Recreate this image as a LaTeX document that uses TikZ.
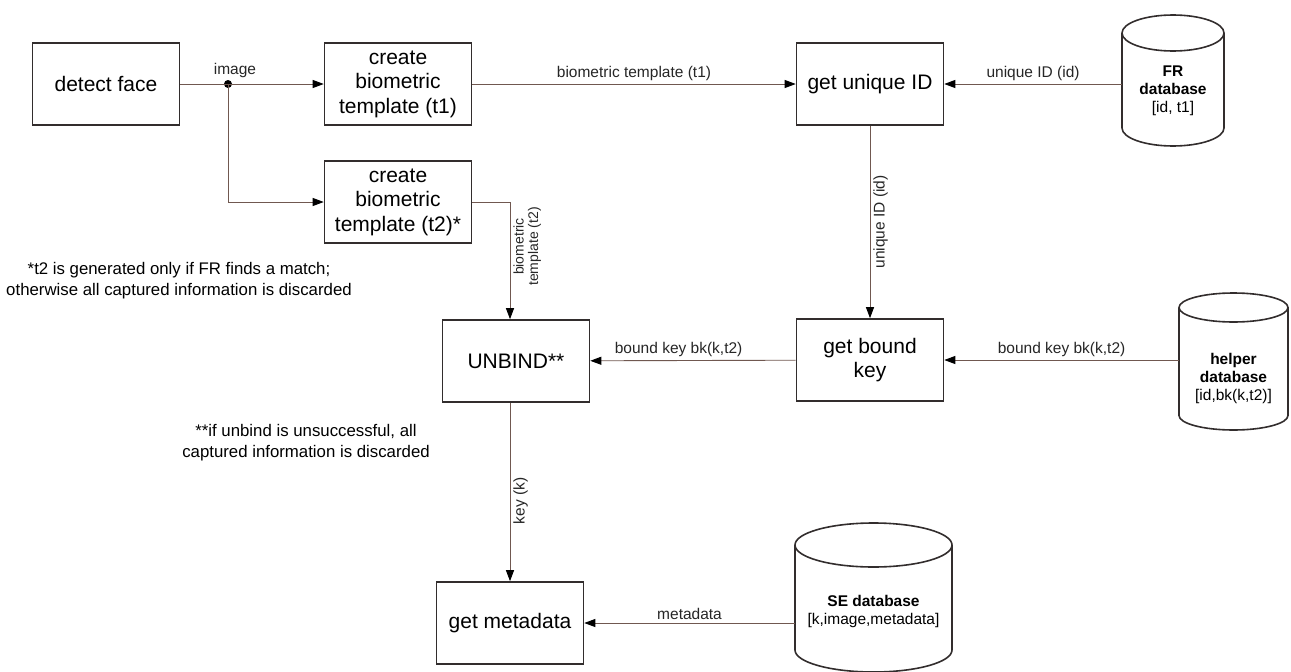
\documentclass[tikz,border=0pt]{standalone}
\usepackage{fontspec}
\setmainfont{Liberation Sans}
\usetikzlibrary{arrows.meta}
\definecolor{linebrown}{RGB}{112,88,80}
\definecolor{boxgray}{RGB}{50,45,45}

\tikzset{
  block/.style={draw=boxgray, line width=1.6pt, minimum width=147pt, minimum height=82pt,
    align=center, inner sep=2pt, font=\fontsize{21}{24.5}\selectfont},
  dbase/.style={align=center, inner sep=0pt, font=\fontsize{15.5}{18}\selectfont},
  dbline/.style={draw=boxgray, line width=1.6pt},
  conn/.style={draw=linebrown, line width=0.9pt},
  arr/.style={conn, -{Triangle[length=11pt,width=8pt,color=black]}},
  lbl/.style={font=\fontsize{15.5}{17}\selectfont, text=black!85, inner sep=3pt},
  note/.style={align=center, font=\fontsize{16.8}{21}\selectfont},
}
% #1 node, #2 x radius, #3 y radius, #4 top ellipse above text, #5 bottom ellipse below text
\newcommand{\dbcyl}[5]{%
  \draw[dbline] ([shift={(-#2pt,#4pt)}]#1.center) -- ([shift={(-#2pt,-#5pt)}]#1.center)
    arc[start angle=180, end angle=360, x radius=#2pt, y radius=#3pt]
    -- ([shift={(#2pt,#4pt)}]#1.center)
    arc[start angle=0, end angle=360, x radius=#2pt, y radius=#3pt];}

\begin{document}
\begin{tikzpicture}[x=1pt,y=-1pt]
  \useasboundingbox (0,0) rectangle (1291,672);
  % top row
  \node[block] (detect) at (106,84) {detect face};
  \node[block] (tmplA) at (398,84) {create\\biometric\\template (t1)};
  \node[block] (tmplB) at (398,202) {create\\biometric\\template (t2)*};
  \node[block] (getid) at (870,84) {get unique ID};
  \node[dbase, minimum width=102pt] (frdb) at (1173,91)
    {\textbf{FR}\\\textbf{database}\\{}[id, t1]};
  \dbcyl{frdb}{51}{18}{58}{37}
  % middle row
  \node[block] (unbind) at (516,361) {UNBIND**};
  \node[block] (getkey) at (870,360) {get bound\\key};
  \node[dbase, minimum width=109pt] (helperdb) at (1233.5,378)
    {\textbf{helper}\\\textbf{database}\\{}[id,bk(k,t2)]};
  \dbcyl{helperdb}{54.5}{14.5}{70.5}{37.5}
  % bottom row
  \node[block] (getmeta) at (510,623) {get metadata};
  \node[dbase, minimum width=157pt] (sedb) at (873.5,611)
    {\textbf{SE database}\\{}[k,image,metadata]};
  \dbcyl{sedb}{78.5}{22}{66}{39}
  % notes
  \node[note] (noteA) at (179,281) {*t2 is generated only if FR finds a match;\\otherwise all captured information is discarded};
  \node[note] (noteB) at (306,443) {**if unbind is unsuccessful, all\\captured information is discarded};

  % connectors
  \coordinate (split) at (228,84);
  \fill[black] (split) circle (4pt);
  \node[lbl] (imglbl) at ([xshift=7pt,yshift=14pt]split) {image};
  \draw[conn] (detect) -- (split);
  \draw[arr] (split) -- (tmplA);
  \draw[arr] (split) |- (tmplB);
  \draw[arr] (tmplA) -- node[lbl, above] {biometric template (t1)} (getid);
  \draw[arr] (frdb.west |- getid) -- node[lbl, above] {unique ID (id)} (getid);
  \draw[arr] (getid) -- node[lbl, rotate=90, anchor=north] {unique ID (id)} (getkey);
  \draw[arr] (tmplB.east) -| node[lbl, pos=0.69, rotate=90, anchor=north, align=center,
    font=\fontsize{14}{14.5}\selectfont] {biometric\\template (t2)} (getmeta |- unbind.north);
  \draw[arr] (helperdb.west |- getkey) -- node[lbl, above] {bound key bk(k,t2)} (getkey);
  \draw[arr] (getkey) -- node[lbl, above, pos=0.57] {bound key bk(k,t2)} (unbind);
  \draw[arr] (unbind.south -| getmeta) -- node[lbl, pos=0.55, rotate=90, anchor=north] {key (k)} (getmeta);
  \draw[arr] (sedb.west |- getmeta) -- node[lbl, above] {metadata} (getmeta);
\end{tikzpicture}
\end{document}
